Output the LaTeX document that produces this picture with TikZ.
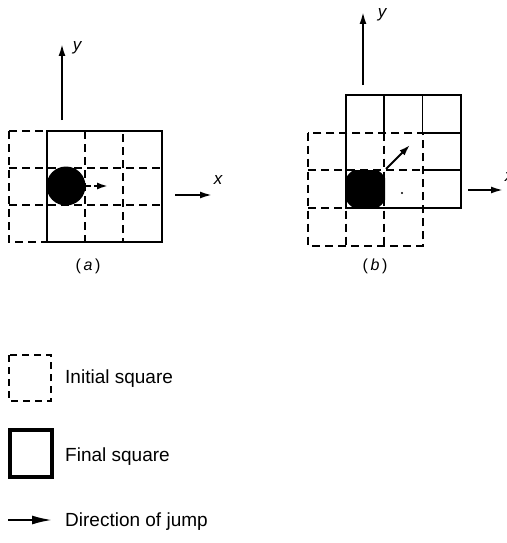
\documentclass[tikz,border=0pt]{standalone}
\usepackage{fontspec}
\setmainfont{Liberation Sans}
\usetikzlibrary{arrows.meta}
\begin{document}
\begin{tikzpicture}[x=1pt,y=-1pt,
  finalsq/.style={line width=2.9pt, line join=miter},
  initsq/.style={line width=1.8pt, dash pattern=on 8pt off 5pt},
  innergrid/.style={line width=2pt},
  axisarrow/.style={line width=1.9pt, -{Latex[length=12pt,width=7pt]}},
  jumparrow/.style={line width=2pt, -{Latex[length=11pt,width=7pt]}},
  legtext/.style={font=\fontsize{19}{22}\selectfont, anchor=base west, inner sep=0pt},
  axlabel/.style={font=\fontsize{17}{20}\selectfont\itshape, inner sep=0pt},
  captext/.style={font=\fontsize{16}{19}\selectfont, inner sep=0pt}
]
\useasboundingbox (0,0) rectangle (506,543);

% ---------------- panel (a) ----------------
\draw[initsq] (9,131) rectangle (123,242);
\draw[initsq] (85,131) -- (85,242);
\draw[initsq] (9,168) -- (162,168);
\draw[initsq] (9,205) -- (162,205);
\draw[finalsq] (47,131) rectangle (162,242);
\fill (66,186) circle (19.5);
\coordinate (ja1) at (86,186);
\coordinate (ja2) at (108,186);
\draw[jumparrow, dash pattern=on 5pt off 3pt] (ja1) -- (ja2);

\coordinate (ay0) at (62,120);
\coordinate (ay1) at (62,44);
\draw[axisarrow] (ay0) -- (ay1);
\node[axlabel] (aylab) at (77,48) {y};
\coordinate (ax0) at (175,195);
\coordinate (ax1) at (212,195);
\draw[axisarrow] (ax0) -- (ax1);
\node[axlabel] (axlab) at (218,180) {x};
\node[captext] (capa) at (88,266) {(\,\textit{a}\,)};

% ---------------- panel (b) ----------------
\draw[initsq] (308,132.7) rectangle (422.7,245.7);
\draw[initsq] (346,132.7) -- (346,245.7);
\draw[initsq] (384.3,132.7) -- (384.3,245.7);
\draw[initsq] (308,170.3) -- (422.7,170.3);
\draw[initsq] (308,208) -- (422.7,208);
\draw[innergrid] (384.3,95) -- (384.3,132.7);
\draw[line width=1.2pt] (422.7,95) -- (422.7,132.7);
\draw[innergrid] (422.7,132.7) -- (461,132.7);
\draw[innergrid] (422.7,170.3) -- (461,170.3);
\draw[finalsq] (346,95) rectangle (461,208);
\begin{scope}
  \clip (346,170.3) rectangle (385,208);
  \fill (365.5,189) circle (22.5);
\end{scope}
\fill (402,193) circle (1.2);
\coordinate (jb1) at (386,169);
\coordinate (jb2) at (410,145);
\draw[jumparrow] (jb1) -- (jb2);

\coordinate (by0) at (363,85);
\coordinate (by1) at (363,12);
\draw[axisarrow] (by0) -- (by1);
\node[axlabel] (bylab) at (382,15) {y};
\coordinate (bx0) at (468,190);
\coordinate (bx1) at (503,190);
\draw[axisarrow] (bx0) -- (bx1);
\node[axlabel] (bxlab) at (509,177) {x};
\node[captext] (capb) at (375,266) {(\,\textit{b}\,)};

% ---------------- legend ----------------
\draw[line width=1.8pt, dash pattern=on 7pt off 5pt] (9,355) rectangle (51,401);
\node[legtext] (lt1) at (65,383.5) {Initial square};
\draw[line width=4pt, line join=miter] (10,430) rectangle (52,477);
\node[legtext] (lt2) at (65,461.7) {Final square};
\coordinate (lg0) at (8,520);
\coordinate (lg1) at (52,520);
\draw[line width=2pt, -{Latex[length=20pt,width=9pt]}] (lg0) -- (lg1);
\node[legtext] (lt3) at (65,526.7) {Direction of jump};
\end{tikzpicture}
\end{document}
